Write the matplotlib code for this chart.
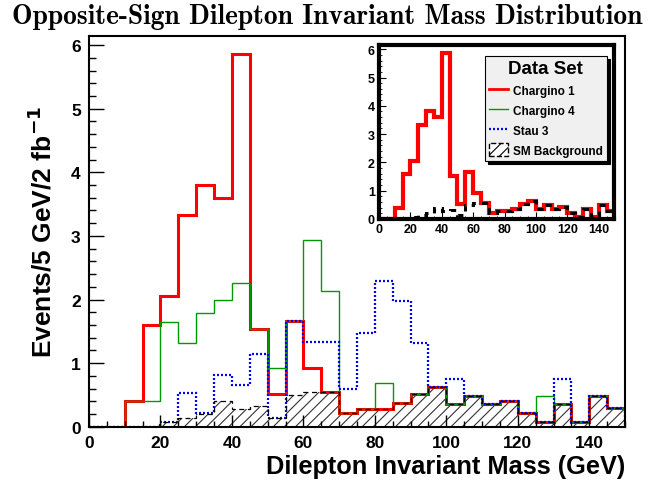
import numpy as np
import matplotlib
matplotlib.use('Agg')
from matplotlib import pyplot as plt
from matplotlib.lines import Line2D
from matplotlib.patches import Patch
from matplotlib.ticker import MultipleLocator

# 5 GeV bins from 0 to 150 GeV
edges = np.arange(0, 155, 5)

# events per bin (signal + SM background)
chargino1 = [0, 0, 0.40, 1.60, 2.06, 3.33, 3.80, 3.60, 5.86, 1.53,
             0.52, 1.66, 0.93, 0.55, 0.22, 0.28, 0.28, 0.37, 0.52, 0.62,
             0.35, 0.48, 0.35, 0.41, 0.21, 0.07, 0.35, 0.07, 0.48, 0.29]
chargino4 = [0, 0, 0.40, 0.40, 1.65, 1.32, 1.79, 1.99, 2.26, 1.53,
             0.93, 1.66, 2.93, 2.13, 0.22, 0.28, 0.69, 0.37, 0.52, 0.62,
             0.35, 0.48, 0.35, 0.41, 0.21, 0.48, 0.35, 0.07, 0.48, 0.29]
stau3 = [0, 0, 0, 0, 0.07, 0.53, 0.21, 0.82, 0.66, 1.14,
         0.14, 1.66, 1.33, 1.33, 0.60, 1.48, 2.29, 1.97, 1.32, 0.62,
         0.75, 0.48, 0.35, 0.41, 0.21, 0.07, 0.75, 0.07, 0.48, 0.29]
sm_bkg = [0, 0, 0, 0, 0.07, 0.14, 0.20, 0.40, 0.28, 0.33,
          0.14, 0.50, 0.55, 0.55, 0.22, 0.28, 0.28, 0.37, 0.52, 0.62,
          0.35, 0.48, 0.35, 0.41, 0.21, 0.07, 0.35, 0.07, 0.48, 0.29]

plt.rcParams['font.family'] = ['Liberation Sans', 'DejaVu Sans']
plt.rcParams['font.weight'] = 'bold'
plt.rcParams['hatch.linewidth'] = 0.8
plt.rcParams['hatch.color'] = '#333333'

RED = '#ff0000'
GREEN = '#009900'
BLUE = '#0000ff'
DOT = (0, (0.9, 0.9))

fig = plt.figure(figsize=(6.54, 4.85), dpi=100)

# main histogram pad
ax = fig.add_axes([0.1361, 0.1181, 0.8196, 0.8066])
ax.stairs(sm_bkg, edges, fill=True, facecolor='none', edgecolor='#333333',
          hatch='///', linewidth=0)
ax.stairs(chargino1, edges, color=RED, linewidth=2.2)
ax.stairs(chargino4, edges, color=GREEN, linewidth=1.0)
ax.stairs(stau3, edges, color=BLUE, linewidth=1.6, linestyle=DOT)
ax.stairs(sm_bkg, edges, color='black', linewidth=0.9, linestyle=(0, (4, 3)))

ax.set_xlim(0, 150)
ax.set_ylim(0, 6.15)
ax.xaxis.set_major_locator(MultipleLocator(20))
ax.xaxis.set_minor_locator(MultipleLocator(5))
ax.yaxis.set_major_locator(MultipleLocator(1))
ax.yaxis.set_minor_locator(MultipleLocator(0.2))
ax.tick_params(direction='in', which='both', labelsize=12.5, width=1.0)
ax.tick_params(axis='y', which='major', length=11, pad=6)
ax.tick_params(axis='y', which='minor', length=5)
ax.tick_params(axis='x', which='major', length=9, pad=6)
ax.tick_params(axis='x', which='minor', length=4)
for s in ax.spines.values():
    s.set_linewidth(1.5)

# inset: Chargino 1 against the background
axin = fig.add_axes([0.5795, 0.5464, 0.360, 0.3588])
axin.stairs(chargino1, edges, color=RED, linewidth=3.0)
axin.stairs(sm_bkg, edges, color='black', linewidth=2.2, linestyle=(0, (2, 2)))
axin.set_xlim(0, 150)
axin.set_ylim(0, 6.15)
axin.xaxis.set_major_locator(MultipleLocator(20))
axin.xaxis.set_minor_locator(MultipleLocator(5))
axin.yaxis.set_major_locator(MultipleLocator(1))
axin.yaxis.set_minor_locator(MultipleLocator(0.2))
axin.tick_params(direction='in', which='both', labelsize=9, pad=3)
axin.tick_params(which='major', length=5)
axin.tick_params(which='minor', length=2.5)
for s in axin.spines.values():
    s.set_linewidth(3.0)

handles = [
    Line2D([], [], color=RED, linewidth=2.0),
    Line2D([], [], color=GREEN, linewidth=1.0),
    Line2D([], [], color=BLUE, linewidth=1.6, linestyle=DOT),
    Patch(facecolor='white', edgecolor='black', hatch='///', linestyle='--'),
]
labels = ['Chargino 1', 'Chargino 4', 'Stau 3', 'SM Background']
leg = fig.legend(handles, labels, title='Data Set', loc='upper left',
                 bbox_to_anchor=(485 / 654, 1 - 57 / 485),
                 bbox_transform=fig.transFigure, borderaxespad=0,
                 fontsize=8.5, title_fontsize=13.5, handlelength=1.6,
                 handleheight=1.3, handletextpad=0.4, labelspacing=0.55,
                 borderpad=0.35, fancybox=False, framealpha=1,
                 facecolor='#f0f0f0', edgecolor='black',
                 shadow={'color': 'black', 'alpha': 1})
leg.get_frame().set_linewidth(0.8)
leg.get_title().set_fontweight('bold')

fig.text(0.5, 1 - 17 / 485, 'Opposite-Sign Dilepton Invariant Mass Distribution',
         family='cmb10', fontsize=19.8, ha='center', va='center')
fig.text(42 / 654, 1 - 232 / 485, 'Events/5 GeV/2 fb$^{\\mathbf{-1}}$',
         rotation=90, fontsize=19, ha='center', va='center')
fig.text(625 / 654, 1 - 467 / 485, 'Dilepton Invariant Mass (GeV)',
         fontsize=18.3, ha='right', va='center')

fig.savefig('out.png', dpi=100)
